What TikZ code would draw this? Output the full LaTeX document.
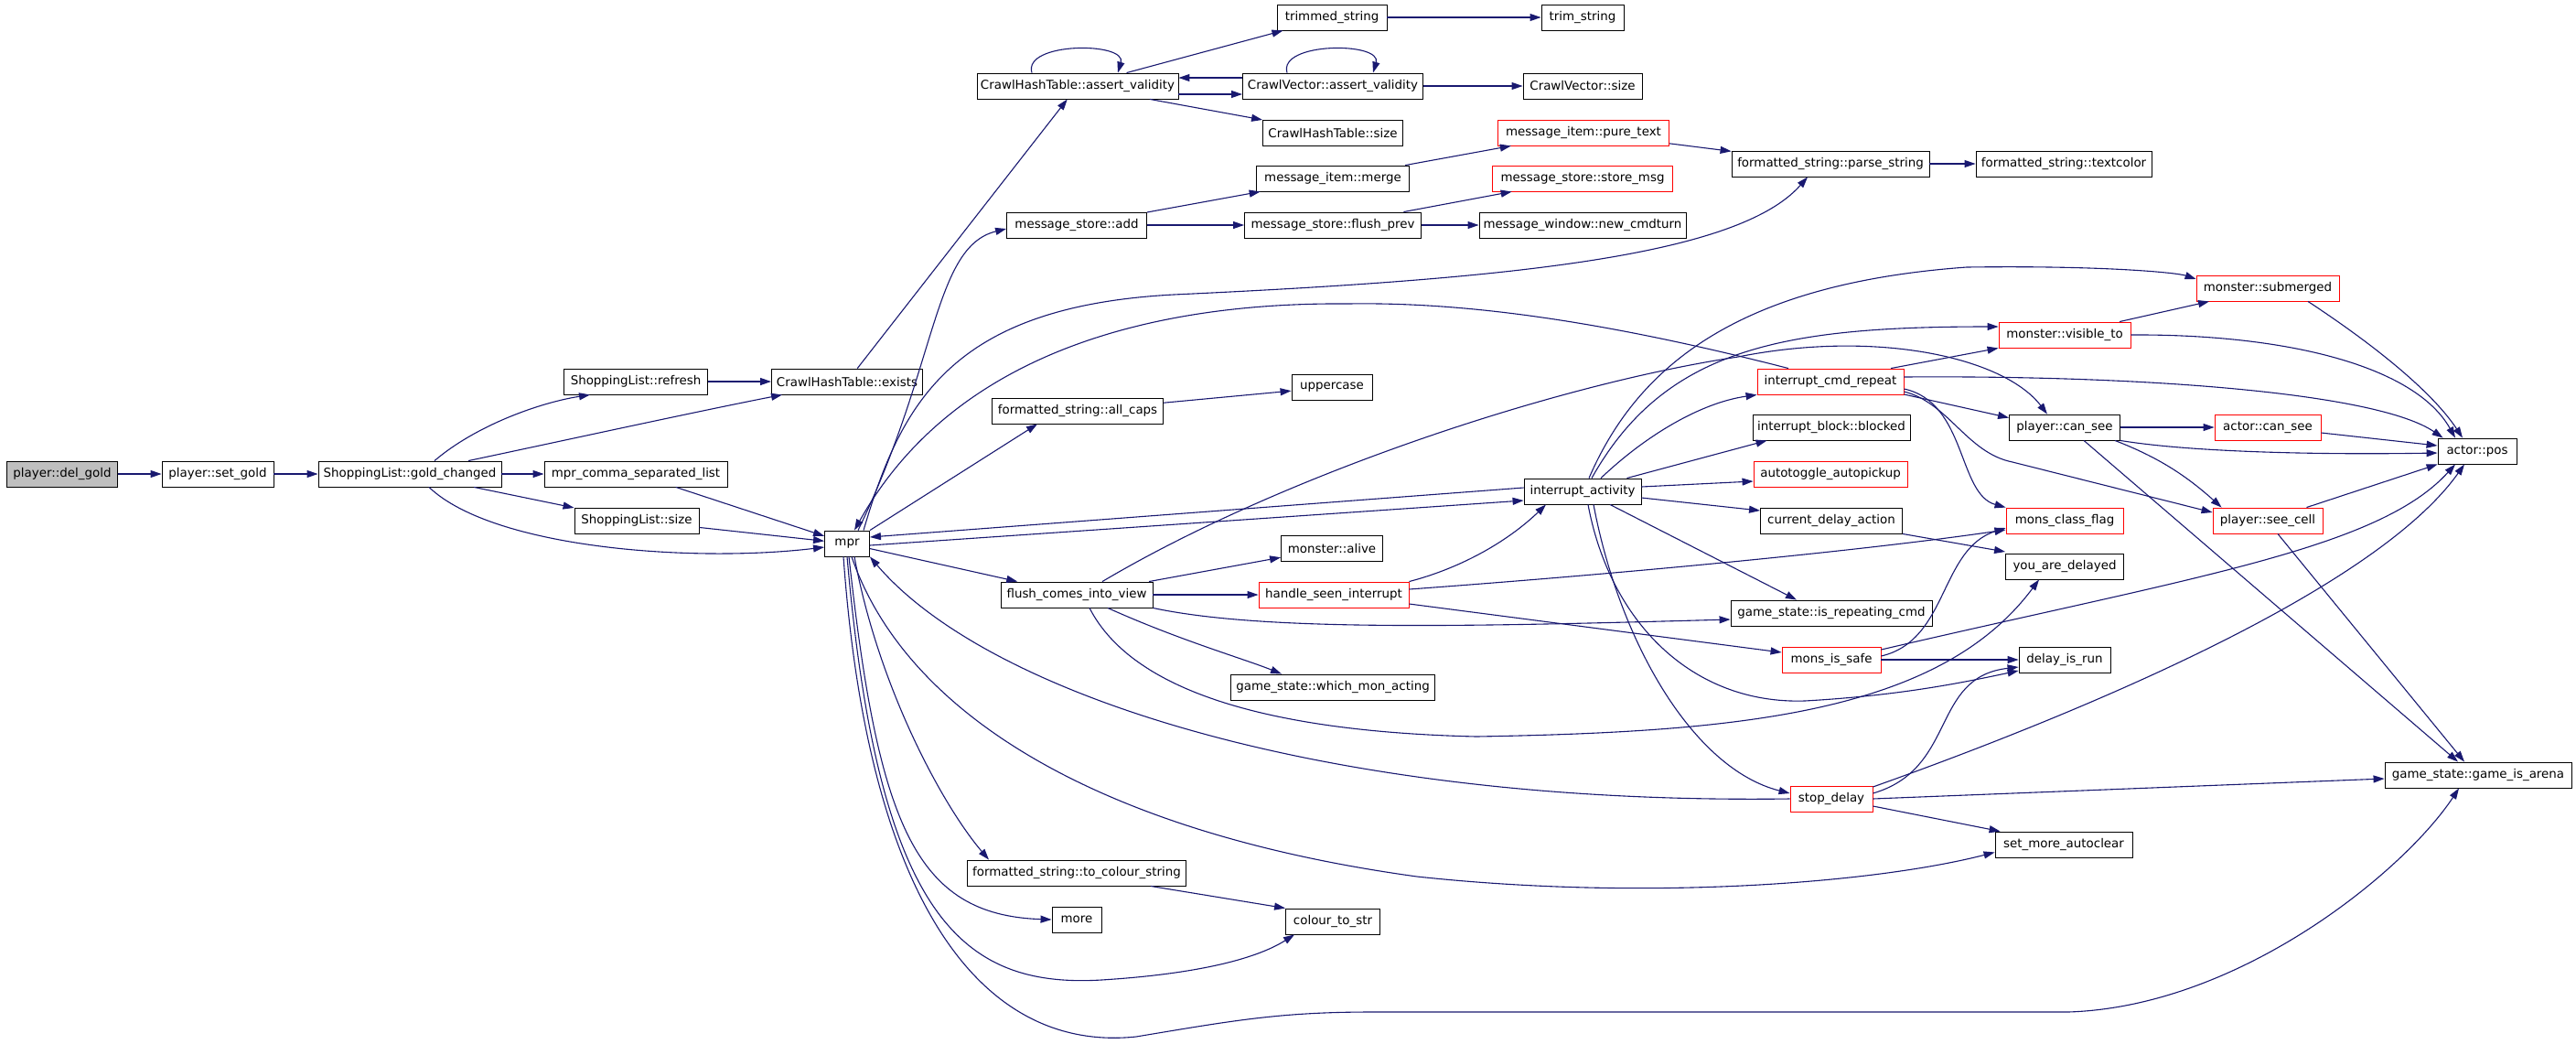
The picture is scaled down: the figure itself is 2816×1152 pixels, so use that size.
\documentclass[tikz,border=0pt]{standalone}
\usepackage{fontspec}
\setmainfont{DejaVu Sans}
\usetikzlibrary{arrows.meta}
\definecolor{callblue}{HTML}{191970}
\tikzstyle{fn}=[draw, rectangle, line width=0.45pt, inner sep=0pt, minimum height=14pt, font=\fontsize{6.7}{8}\selectfont]
\tikzstyle{fnred}=[fn, draw=red]
\tikzstyle{call}=[draw=callblue, line width=0.55pt, -{Triangle[length=6pt,width=4pt]}]

\begin{document}
\begin{tikzpicture}[x=0.5pt, y=-0.5pt]
\useasboundingbox (0,0) rectangle (2816,1152);
\node[fn, fill=gray!50, minimum width=60.5pt] (delgold) at (68,518) {player::del\_gold};
\foreach \n/\x/\y/\w/\t in {setgold/238/518/122/player::set\_gold, goldch/448/518/200/ShoppingList::gold\_changed,
    refresh/695/417/157/ShoppingList::refresh, commalist/695/518/200/mpr\_comma\_separated\_list,
    slsize/696/569/136/ShoppingList::size, exists/926/417/165/CrawlHashTable::exists, mpr/926/594/49/mpr,
    chav/1178/94/220/CrawlHashTable::assert\_validity, msadd/1177/246/153/message\_store::add,
    allcaps/1178/449/187/formatted\_string::all\_caps, flushview/1177/650/166/flush\_comes\_into\_view,
    tocol/1177/954/239/formatted\_string::to\_colour\_string, more/1177/1005/54/more,
    trimmed/1456/19/120/trimmed\_string, cvav/1457/94/197/CrawlVector::assert\_validity,
    chsize/1457/145/153/CrawlHashTable::size, merge/1457/195/167/message\_item::merge,
    flushprev/1457/246/193/message\_store::flush\_prev, upper/1456/423/88/uppercase,
    alive/1456/599/111/monster::alive, whichmon/1457/751/223/game\_state::which\_mon\_acting,
    coltostr/1457/1007/103/colour\_to\_str, trim/1730/19/90/trim\_string, cvsize/1730/94/130/CrawlVector::size,
    newcmd/1730/246/226/message\_window::new\_cmdturn, iact/1730/537/128/interrupt\_activity,
    parse/2001/179/216/formatted\_string::parse\_string, textcolor/2256/179/192/formatted\_string::textcolor,
    blocked/2002/467/172/interrupt\_block::blocked, curdelay/2002/569/155/current\_delay\_action,
    isrep/2002/670/220/game\_state::is\_repeating\_cmd, cansee/2257/467/121/player::can\_see,
    delayed/2257/619/129/you\_are\_delayed, isrun/2257/721/100/delay\_is\_run,
    autoclear/2256/923/150/set\_more\_autoclear, apos/2708/493/86/actor::pos,
    arena/2709/847/204/game\_state::game\_is\_arena}
  \node[fn, minimum width=\w*0.5pt] (\n) at (\x,\y) {\t};
\foreach \n/\x/\y/\w/\t in {hsi/1458/650/164/handle\_seen\_interrupt, puretext/1731/145/187/message\_item::pure\_text,
    storemsg/1730/195/197/message\_store::store\_msg, icr/2001/417/160/interrupt\_cmd\_repeat,
    autotog/2001/518/168/autotoggle\_autopickup, safe/2002/721/108/mons\_is\_safe, stopdelay/2002/873/90/stop\_delay,
    visto/2257/366/144/monster::visible\_to, mcflag/2257/569/128/mons\_class\_flag,
    submerged/2479/315/156/monster::submerged, acansee/2479/467/116/actor::can\_see,
    seecell/2479/569/120/player::see\_cell}
  \node[fnred, minimum width=\w*0.5pt] (\n) at (\x,\y) {\t};
\foreach \f/\t in {delgold/setgold, setgold/goldch, goldch/commalist, goldch/slsize, refresh/exists,
    commalist/mpr, slsize/mpr, exists/chav, chav/trimmed, chav/chsize, trimmed/trim, cvav/cvsize,
    msadd/merge, msadd/flushprev, merge/puretext, flushprev/storemsg, flushprev/newcmd, puretext/parse,
    parse/textcolor, allcaps/upper, mpr/flushview, flushview/alive, flushview/hsi, cansee/acansee, safe/isrun}
  \draw[call] (\f) -- (\t);
\draw[call] ([xshift=13.5pt]goldch.north) .. controls (520,465) and (590,440) .. ([xshift=-25pt]refresh.south);
\draw[call] ([xshift=32pt]goldch.north) .. controls (600,485) and (760,450) .. ([xshift=6pt]exists.south west);
\draw[call] ([xshift=10.5pt]goldch.south) .. controls (540,600) and (760,615) .. ([yshift=-2pt]mpr.west);
\draw[call] ([xshift=-25pt]chav.north) .. controls +(-5pt,17pt) and +(5pt,17pt) .. ([xshift=22pt]chav.north);
\draw[call] ([xshift=-25pt]cvav.north) .. controls +(-5pt,17pt) and +(5pt,17pt) .. ([xshift=22pt]cvav.north);
\draw[call] ([yshift=4.5pt]cvav.west) -- ([yshift=4.5pt]chav.east);
\draw[call] ([yshift=-4.5pt]chav.east) -- ([yshift=-4.5pt]cvav.west);
\draw[call] ([xshift=6pt]mpr.north) .. controls (1025,400) and (1020,270) .. ([yshift=-2pt]msadd.west);
\draw[call] ([xshift=9pt]mpr.north) .. controls (985,440) and (1040,335) .. (1283,322)
  .. controls (1650,305) and (1900,280) .. ([xshift=-12.5pt]parse.south);
\draw[call] ([xshift=-23pt]icr.north) .. controls (1750,350) and (1600,330) .. (1474,332)
  .. controls (1250,330) and (1040,390) .. ([xshift=4pt]mpr.north);
\draw[call] (mpr.north east) -- ([xshift=-22pt]allcaps.south);
\draw[call] ([yshift=2pt]iact.west) -- ([yshift=3.5pt]mpr.east);
\draw[call] ([yshift=-1pt]mpr.east) -- ([yshift=-5pt]iact.west);
\draw[call] ([xshift=17pt]flushview.south) .. controls (1290,700) and (1360,720) .. ([xshift=-28pt]whichmon.north);
\draw[call] ([xshift=14pt]flushview.north) .. controls (1400,520) and (1700,420) .. (1900,390)
  .. controls (2050,360) and (2190,390) .. ([xshift=-9.5pt]cansee.north);
\draw[call] (flushview.south east) .. controls (1380,690) and (1600,685) .. ([yshift=-3.5pt]isrep.west);
\draw[call] ([xshift=7pt]flushview.south) .. controls (1240,760) and (1400,800) .. (1614,805)
  .. controls (1900,800) and (2120,780) .. ([xshift=-14pt]delayed.south);
\draw[call] (hsi.north east) .. controls (1600,620) and (1650,590) .. ([xshift=-20pt]iact.south);
\draw[call] ([yshift=3pt]hsi.east) .. controls (1800,625) and (2050,600) .. ([yshift=-5pt]mcflag.west);
\draw[call] ([yshift=-5pt]hsi.east) -- ([yshift=4pt]safe.west);
\draw[call] ([xshift=3.5pt]iact.north) .. controls (1790,400) and (1900,310) .. (2150,292)
  .. controls (2300,290) and (2380,298) .. ([yshift=5pt]submerged.west);
\draw[call] ([xshift=5pt]iact.north) .. controls (1820,380) and (1950,357) .. ([yshift=4.5pt]visto.west);
\draw[call] ([xshift=10pt]iact.north) .. controls (1800,475) and (1860,440) .. (icr.south west);
\draw[call] ([xshift=-8pt]iact.north east) -- ([xshift=8pt]blocked.south west);
\draw[call] ([yshift=2.5pt]iact.east) -- ([yshift=-4pt]autotog.west);
\draw[call] ([yshift=-3.5pt]iact.east) -- ([yshift=5.5pt]curdelay.west);
\draw[call] ([xshift=15pt]iact.south) -- ([xshift=-19pt]isrep.north);
\draw[call] ([xshift=3pt]iact.south) .. controls (1760,680) and (1850,770) .. (1973,766)
  .. controls (2080,760) and (2150,745) .. ([yshift=-6pt]isrun.west);
\draw[call] ([xshift=6pt]iact.south) .. controls (1770,700) and (1850,840) .. ([yshift=3pt]stopdelay.west);
\draw[call] ([xshift=33pt]icr.north) -- (visto.south west);
\draw[call] ([yshift=-7pt]icr.east) -- ([yshift=-2pt]cansee.north west);
\draw[call] ([yshift=2.5pt]icr.east) .. controls (2350,410) and (2600,430) .. ([xshift=3pt]apos.north west);
\draw[call] ([yshift=-4pt]icr.east) .. controls (2150,440) and (2140,540) .. (mcflag.north west);
\draw[call] ([yshift=-5.5pt]icr.east) .. controls (2130,440) and (2150,495) .. (2200,505) -- ([yshift=4.5pt]seecell.west);
\draw[call] (cansee.south east) .. controls (2400,495) and (2550,497) .. ([yshift=-1pt]apos.west);
\draw[call] ([xshift=-3pt]cansee.south east) .. controls (2360,500) and (2390,520) .. ([xshift=5pt]seecell.north west);
\draw[call] ([xshift=10.5pt]cansee.south) -- ([xshift=-11pt]arena.north);
\draw[call] ([yshift=-3pt]acansee.east) -- ([yshift=3pt]apos.west);
\draw[call] ([xshift=-9pt]seecell.north east) -- (apos.south west);
\draw[call] ([xshift=5.5pt]seecell.south) -- ([xshift=-7.5pt]arena.north);
\draw[call] ([xshift=30pt]visto.north) -- ([xshift=-32pt]submerged.south);
\draw[call] (visto.east) .. controls (2500,365) and (2640,400) .. ([xshift=-12pt]apos.north);
\draw[call] ([xshift=22pt]submerged.south) .. controls (2600,380) and (2660,430) .. ([xshift=-8pt]apos.north);
\draw[call] ([yshift=5.5pt]safe.east) .. controls (2400,630) and (2600,600) .. ([xshift=-12pt]apos.south);
\draw[call] ([yshift=2pt]safe.east) .. controls (2130,700) and (2120,600) .. ([yshift=-4pt]mcflag.west);
\draw[call] ([yshift=6.5pt]stopdelay.east) .. controls (2300,770) and (2600,640) .. ([xshift=-7pt]apos.south);
\draw[call] ([yshift=3pt]stopdelay.east) .. controls (2140,840) and (2110,740) .. ([yshift=-4pt]isrun.west);
\draw[call] (stopdelay.east) -- ([yshift=-2pt]arena.west);
\draw[call] ([yshift=-4pt]stopdelay.east) -- ([xshift=3pt]autoclear.north west);
\draw[call] (stopdelay.west) .. controls (1450,880) and (1080,760) .. (mpr.south east);
\draw[call] ([xshift=2.5pt]mpr.south) .. controls (990,780) and (1200,910) .. (1549,958)
  .. controls (1800,985) and (2050,965) .. ([yshift=3pt]autoclear.south west);
\draw[call] ([xshift=4pt]mpr.south) .. controls (960,750) and (1030,880) .. ([xshift=-48pt]tocol.north);
\draw[call] ([xshift=1pt]mpr.south) .. controls (960,900) and (1000,1000) .. (more.west);
\draw[call] (mpr.south) .. controls (960,1000) and (1050,1080) .. (1204,1071)
  .. controls (1300,1065) and (1370,1050) .. ([xshift=-21pt]coltostr.south);
\draw[call] ([xshift=-2pt]mpr.south) .. controls (950,1000) and (1080,1150) .. (1242,1133)
  .. controls (1350,1115) and (1400,1106) .. (1500,1106) -- (2261,1106)
  .. controls (2450,1100) and (2630,950) .. ([xshift=-10.5pt]arena.south);
\draw[call] ([xshift=-19.5pt]tocol.south east) -- (coltostr.north west);
\draw[call] (curdelay.south east) -- ([yshift=8pt]delayed.west);
\end{tikzpicture}
\end{document}
